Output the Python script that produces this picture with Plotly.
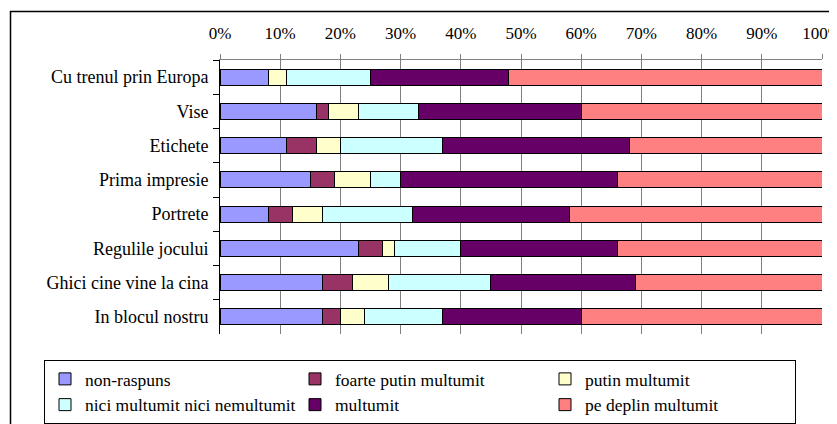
import plotly.graph_objects as go

categories = ["Cu trenul prin Europa", "Vise", "Etichete", "Prima impresie",
              "Portrete", "Regulile jocului", "Ghici cine vine la cina", "In blocul nostru"]

non_raspuns = [8, 16, 11, 15, 8, 23, 17, 17]
foarte_putin = [0, 2, 5, 4, 4, 4, 5, 3]
putin = [3, 5, 4, 6, 5, 2, 6, 4]
nici = [14, 10, 17, 5, 15, 11, 17, 13]
multumit = [23, 27, 31, 36, 26, 26, 24, 23]
pe_deplin = [52, 40, 32, 34, 42, 34, 31, 40]

series = [
    ("non-raspuns", non_raspuns, "#9999FF"),
    ("foarte putin multumit", foarte_putin, "#993366"),
    ("putin multumit", putin, "#FFFFCC"),
    ("nici multumit nici nemultumit", nici, "#CCFFFF"),
    ("multumit", multumit, "#660066"),
    ("pe deplin multumit", pe_deplin, "#FF8080"),
]

FONT = "Liberation Serif, Times New Roman, serif"

fig = go.Figure()
for name, vals, col in series:
    fig.add_trace(go.Bar(
        y=categories, x=vals, name=name, orientation="h",
        marker=dict(color=col, line=dict(color="black", width=1)),
    ))

# the page body adds an 8px offset; compensate so the figure fills the window
OFF = 8
W, H = 837 - OFF, 424 - OFF
L, R, T = 220 - OFF, 15, 60 - OFF
ph = 274
B = H - T - ph
pw = W - L - R

def px_x(p):
    return (p - OFF - L) / pw

def px_y(p):
    return 1 - (p - OFF - T) / ph

fig.update_layout(
    width=W, height=H,
    margin=dict(l=L, r=R, t=T, b=B, autoexpand=False),
    barmode="stack",
    bargap=0.53,
    plot_bgcolor="white",
    paper_bgcolor="white",
    font=dict(family=FONT, size=17.5, color="black"),
    showlegend=True,
    legend=dict(
        orientation="h",
        x=px_x(44), y=px_y(360), xanchor="left", yanchor="top",
        bordercolor="black", borderwidth=1,
        entrywidth=205, entrywidthmode="pixels",
        itemwidth=30,
        font=dict(family=FONT, size=17.5, color="black"),
        traceorder="normal",
        tracegroupgap=0,
    ),
    xaxis=dict(
        side="top", range=[0, 100], dtick=10, ticksuffix="%",
        showgrid=True, gridcolor="#808080", gridwidth=1,
        zeroline=False,
        showline=True, linecolor="#808080", linewidth=1,
        ticks="outside", ticklen=5, tickcolor="#808080",
        ticklabelstandoff=8,
        ticklabeloverflow="allow",
        tickfont=dict(family=FONT, size=17, color="black"),
    ),
    yaxis=dict(
        type="category", autorange="reversed",
        showline=True, linecolor="black", linewidth=1,
        ticks="outside", ticklen=6, tickcolor="black",
        tickson="boundaries",
        showgrid=False, zeroline=False,
        ticklabelstandoff=7,
        tickfont=dict(family=FONT, size=18, color="black"),
    ),
    shapes=[dict(
        type="rect", xref="paper", yref="paper",
        x0=px_x(10.5), x1=px_x(870), y0=px_y(11.5), y1=px_y(470),
        line=dict(color="black", width=1.5), fillcolor="rgba(0,0,0,0)",
        layer="below",
    )],
)

fig.write_html("out.html")
